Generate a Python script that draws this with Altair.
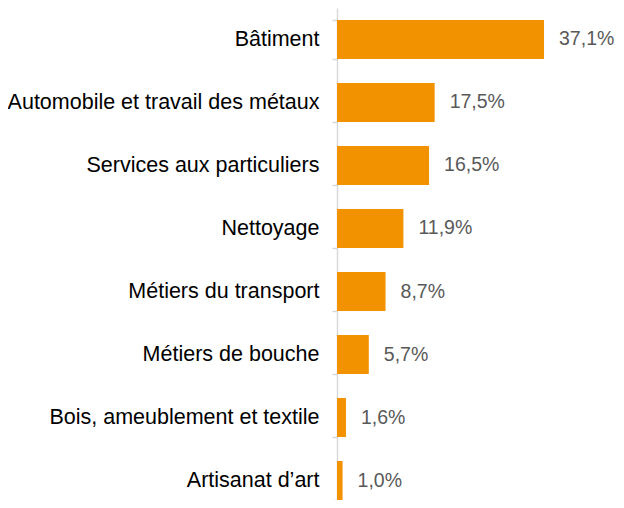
import altair as alt
import pandas as pd

categories = [
    "Bâtiment",
    "Automobile et travail des métaux",
    "Services aux particuliers",
    "Nettoyage",
    "Métiers du transport",
    "Métiers de bouche",
    "Bois, ameublement et textile",
    "Artisanat d’art",
]
values = [37.1, 17.5, 16.5, 11.9, 8.7, 5.7, 1.6, 1.0]
labels = ["37,1%", "17,5%", "16,5%", "11,9%", "8,7%", "5,7%", "1,6%", "1,0%"]

df = pd.DataFrame({"cat": categories, "val": values, "lab": labels})

FONT = "Arial, Liberation Sans, sans-serif"

y = alt.Y(
    "cat:N",
    sort=categories,
    title=None,
    scale=alt.Scale(paddingInner=0.381, paddingOuter=0.19, range=[0, 504]),
    axis=alt.Axis(
        tickBand="extent",
        domainColor="#D9D9D9",
        domainWidth=1.5,
        tickColor="#D9D9D9",
        tickWidth=1.5,
        tickSize=5,
        labelPadding=13,
        labelFont=FONT,
        labelFontSize=21.5,
        labelColor="#000000",
        labelLimit=400,
    ),
)
x = alt.X("val:Q", scale=alt.Scale(domain=[0, 50]), axis=None)

bars = alt.Chart(df).mark_bar(color="#F39200").encode(x=x, y=y)
text = alt.Chart(df).mark_text(
    align="left", baseline="middle", dx=15, font=FONT, fontSize=19.5, color="#595959"
).encode(x=x, y=y, text="lab:N")

chart = (
    (bars + text)
    .properties(
        width=279,
        height=492,
        autosize=alt.AutoSizeParams(type="none"),
        padding={"left": 329, "top": 0, "right": 0, "bottom": 0},
    )
    .configure_view(stroke=None)
)

chart.save("out.html", embed_options={"renderer": "svg", "actions": False})
